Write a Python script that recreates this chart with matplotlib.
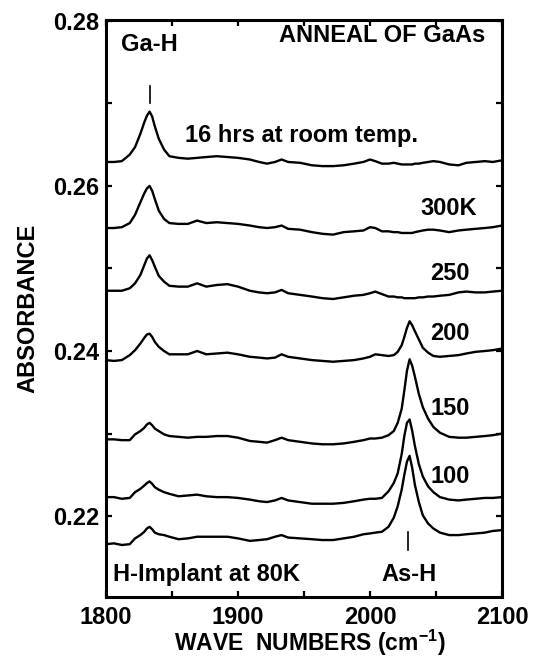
import numpy as np
import matplotlib.pyplot as plt

plt.rcParams['font.family'] = ['Liberation Sans', 'DejaVu Sans']
plt.rcParams['font.weight'] = 'bold'
plt.rcParams['axes.labelweight'] = 'bold'
plt.rcParams['mathtext.fontset'] = 'custom'
plt.rcParams['mathtext.rm'] = 'Liberation Sans:bold'
plt.rcParams['mathtext.bf'] = 'Liberation Sans:bold'

# wave numbers (cm-1) at which the spectra were read
wavenumber = [1800, 1806, 1812, 1818, 1822, 1826, 1829, 1831, 1833, 1835,
              1837, 1840, 1844, 1848, 1855, 1862, 1869, 1876, 1884, 1892,
              1900, 1909, 1916, 1922, 1928, 1933, 1938, 1947, 1956, 1964,
              1972, 1980, 1988, 1995, 2000, 2004, 2009, 2014, 2018, 2021,
              2024, 2026, 2028, 2030, 2032, 2034, 2037, 2040, 2044, 2048,
              2053, 2060, 2067, 2073, 2080, 2087, 2093, 2100]

# absorbance after each anneal step (top to bottom)
room_16h = [0.2629, 0.2629, 0.2630, 0.2638, 0.2647, 0.2663, 0.2677, 0.2685, 0.2690, 0.2684,
            0.2672, 0.2657, 0.2644, 0.2636, 0.2634, 0.2633, 0.2634, 0.2635, 0.2636, 0.2635,
            0.2634, 0.2632, 0.2629, 0.2627, 0.2629, 0.2632, 0.2629, 0.2628, 0.2625, 0.2624,
            0.2624, 0.2625, 0.2627, 0.2629, 0.2632, 0.2630, 0.2627, 0.2627, 0.2628, 0.2627,
            0.2626, 0.2626, 0.2626, 0.2626, 0.2626, 0.2627, 0.2627, 0.2628, 0.2629, 0.2630,
            0.2629, 0.2626, 0.2625, 0.2628, 0.2629, 0.2630, 0.2629, 0.2631]
anneal_300 = [0.2549, 0.2549, 0.2550, 0.2555, 0.2565, 0.2580, 0.2591, 0.2597, 0.2600, 0.2594,
              0.2584, 0.2570, 0.2560, 0.2555, 0.2554, 0.2554, 0.2558, 0.2555, 0.2556, 0.2555,
              0.2554, 0.2552, 0.2550, 0.2549, 0.2550, 0.2552, 0.2548, 0.2547, 0.2544, 0.2542,
              0.2541, 0.2544, 0.2545, 0.2546, 0.2550, 0.2549, 0.2545, 0.2545, 0.2544, 0.2544,
              0.2543, 0.2543, 0.2543, 0.2543, 0.2543, 0.2544, 0.2545, 0.2546, 0.2547, 0.2547,
              0.2546, 0.2544, 0.2546, 0.2547, 0.2548, 0.2549, 0.2550, 0.2552]
anneal_250 = [0.2473, 0.2473, 0.2473, 0.2476, 0.2482, 0.2492, 0.2504, 0.2512, 0.2516, 0.2510,
              0.2502, 0.2491, 0.2484, 0.2479, 0.2478, 0.2478, 0.2482, 0.2478, 0.2480, 0.2481,
              0.2478, 0.2473, 0.2471, 0.2470, 0.2471, 0.2474, 0.2470, 0.2468, 0.2466, 0.2464,
              0.2463, 0.2465, 0.2467, 0.2468, 0.2470, 0.2472, 0.2469, 0.2466, 0.2466, 0.2465,
              0.2465, 0.2464, 0.2464, 0.2464, 0.2464, 0.2464, 0.2465, 0.2465, 0.2466, 0.2466,
              0.2467, 0.2468, 0.2471, 0.2472, 0.2471, 0.2471, 0.2472, 0.2473]
anneal_200 = [0.2389, 0.2388, 0.2389, 0.2395, 0.2401, 0.2409, 0.2416, 0.2420, 0.2421, 0.2417,
              0.2411, 0.2405, 0.2400, 0.2396, 0.2396, 0.2396, 0.2400, 0.2396, 0.2397, 0.2398,
              0.2396, 0.2393, 0.2392, 0.2391, 0.2392, 0.2396, 0.2393, 0.2391, 0.2389, 0.2388,
              0.2387, 0.2388, 0.2389, 0.2391, 0.2393, 0.2396, 0.2395, 0.2394, 0.2395, 0.2399,
              0.2407, 0.2417, 0.2428, 0.2436, 0.2431, 0.2424, 0.2414, 0.2404, 0.2398, 0.2394,
              0.2393, 0.2394, 0.2395, 0.2397, 0.2399, 0.2400, 0.2401, 0.2403]
anneal_150 = [0.2293, 0.2293, 0.2292, 0.2292, 0.2299, 0.2303, 0.2307, 0.2311, 0.2313, 0.2310,
              0.2306, 0.2303, 0.2299, 0.2297, 0.2296, 0.2295, 0.2296, 0.2296, 0.2297, 0.2297,
              0.2295, 0.2291, 0.2290, 0.2289, 0.2292, 0.2295, 0.2292, 0.2290, 0.2288, 0.2287,
              0.2287, 0.2288, 0.2290, 0.2292, 0.2294, 0.2294, 0.2295, 0.2298, 0.2303, 0.2313,
              0.2330, 0.2352, 0.2376, 0.2390, 0.2382, 0.2369, 0.2348, 0.2332, 0.2318, 0.2308,
              0.2301, 0.2296, 0.2295, 0.2295, 0.2296, 0.2297, 0.2298, 0.2300]
anneal_100 = [0.2223, 0.2223, 0.2221, 0.2222, 0.2229, 0.2233, 0.2237, 0.2240, 0.2242, 0.2239,
              0.2235, 0.2232, 0.2229, 0.2227, 0.2224, 0.2225, 0.2226, 0.2224, 0.2223, 0.2223,
              0.2222, 0.2220, 0.2218, 0.2217, 0.2219, 0.2222, 0.2219, 0.2217, 0.2215, 0.2215,
              0.2215, 0.2216, 0.2218, 0.2220, 0.2221, 0.2221, 0.2222, 0.2230, 0.2240, 0.2252,
              0.2275, 0.2297, 0.2313, 0.2317, 0.2303, 0.2285, 0.2263, 0.2248, 0.2236, 0.2229,
              0.2223, 0.2220, 0.2219, 0.2220, 0.2221, 0.2222, 0.2222, 0.2223]
implant_80 = [0.2166, 0.2167, 0.2165, 0.2166, 0.2173, 0.2177, 0.2181, 0.2185, 0.2187, 0.2184,
              0.2180, 0.2178, 0.2177, 0.2175, 0.2172, 0.2173, 0.2175, 0.2175, 0.2175, 0.2175,
              0.2173, 0.2170, 0.2171, 0.2172, 0.2175, 0.2177, 0.2174, 0.2173, 0.2172, 0.2171,
              0.2171, 0.2173, 0.2175, 0.2178, 0.2179, 0.2180, 0.2181, 0.2187, 0.2198, 0.2212,
              0.2232, 0.2250, 0.2266, 0.2273, 0.2258, 0.2238, 0.2217, 0.2201, 0.2191, 0.2185,
              0.2180, 0.2177, 0.2177, 0.2178, 0.2179, 0.2180, 0.2182, 0.2183]

spectra = [room_16h, anneal_300, anneal_250, anneal_200, anneal_150, anneal_100, implant_80]
temp_labels = ['300K', '250', '200', '150', '100']
temp_label_y = [0.25648, 0.24861, 0.24133, 0.23224, 0.22400]
x_ticks = [1800, 1900, 2000, 2100]
y_ticks = [0.22, 0.24, 0.26, 0.28]

fig = plt.figure(figsize=(5.37, 6.58), dpi=100)
ax = fig.add_axes([106/537, 1 - 597/658, (502 - 106)/537, (597 - 20)/658])

for s in spectra:
    ax.plot(wavenumber, s, color='black', lw=1.7, solid_joinstyle='round')

ax.set_xlim(1800, 2100)
ax.set_ylim(0.2102, 0.2801)
ax.set_xticks(x_ticks)
ax.set_xticks([1850, 1950, 2050], minor=True)
ax.set_yticks(y_ticks)
ax.set_yticklabels(['%.2f' % v for v in y_ticks])
ax.set_yticks([0.23, 0.25, 0.27], minor=True)
ax.tick_params(which='both', direction='in', top=True, right=True,
               length=4.5, width=1.6, labelsize=17)
ax.tick_params(axis='x', pad=6.5)
ax.tick_params(axis='y', pad=5)
for sp in ax.spines.values():
    sp.set_linewidth(2.2)

ax.set_xlabel(r'WAVE  NUMBERS (cm$^{\mathbf{-1}}$)', fontsize=16.5)
ax.xaxis.set_label_coords((310 - 106) / (502 - 106), -0.080)
ax.xaxis.label.set_va('center')
ax.set_ylabel('ABSORBANCE', fontsize=17, labelpad=10)

# annotations
ax.text(2087, 0.27739, 'ANNEAL OF GaAs', fontsize=17, ha='right', va='baseline')
ax.text(1832.6, 0.27636, 'Ga-H', fontsize=17, ha='center', va='baseline')
ax.plot([1833, 1833], [0.27006, 0.27212], color='black', lw=1.2)
ax.text(1860, 0.26533, '16 hrs at room temp.', fontsize=17, ha='left', va='baseline')
for lab, yy in zip(temp_labels, temp_label_y):
    ax.text(2081 if lab == '300K' else 2075.5, yy, lab, fontsize=17, ha='right', va='baseline')
ax.text(1805.3, 0.21212, 'H-Implant at 80K', fontsize=17, ha='left', va='baseline')
ax.text(2029.5, 0.21212, 'As-H', fontsize=17, ha='center', va='baseline')
ax.plot([2029, 2029], [0.21588, 0.21806], color='black', lw=1.2)

fig.savefig('out.png', dpi=100)
